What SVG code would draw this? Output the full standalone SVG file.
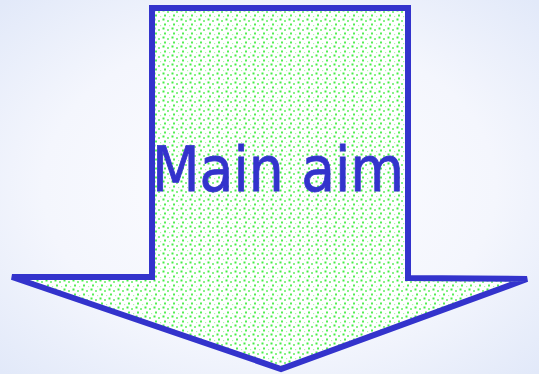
<svg xmlns="http://www.w3.org/2000/svg" width="539" height="374" viewBox="0 0 539 374">
<defs>
<radialGradient id="bg" cx="0.5" cy="0.5" r="0.7">
<stop offset="0" stop-color="#fdfdff"/>
<stop offset="0.6" stop-color="#f4f6fd"/>
<stop offset="1" stop-color="#e2e9f9"/>
</radialGradient>
<pattern id="dots" width="9" height="9" patternUnits="userSpaceOnUse">
<rect width="9" height="9" fill="#ffffff"/>
<rect x="0.5" y="0.5" width="2" height="2" fill="#44ee44"/>
<rect x="5" y="2" width="2" height="2" fill="#88f288"/>
<rect x="2" y="5.5" width="2" height="2" fill="#55ee55"/>
<rect x="7" y="7" width="1.2" height="1.2" fill="#aaf7aa"/>
</pattern>
<style>
.arrow{fill:url(#dots);stroke:#3333cc;stroke-width:6;stroke-linejoin:miter;stroke-miterlimit:3}
.lbl{font-family:"DejaVu Sans Condensed","DejaVu Sans",sans-serif;font-size:62px;fill:#3333cc;stroke:#3333cc;stroke-width:0.8}
</style>
</defs>
<rect width="539" height="374" fill="url(#bg)"/>
<g id="main-aim">
<path class="arrow" d="M152,8 L408,8 L408,278 L527,279 L281,369 L12,277 L152,277 Z"/>
<text class="lbl" x="278" y="191" text-anchor="middle" textLength="252" lengthAdjust="spacingAndGlyphs">Main aim</text>
</g>
<g id="connectors"/>
</svg>
